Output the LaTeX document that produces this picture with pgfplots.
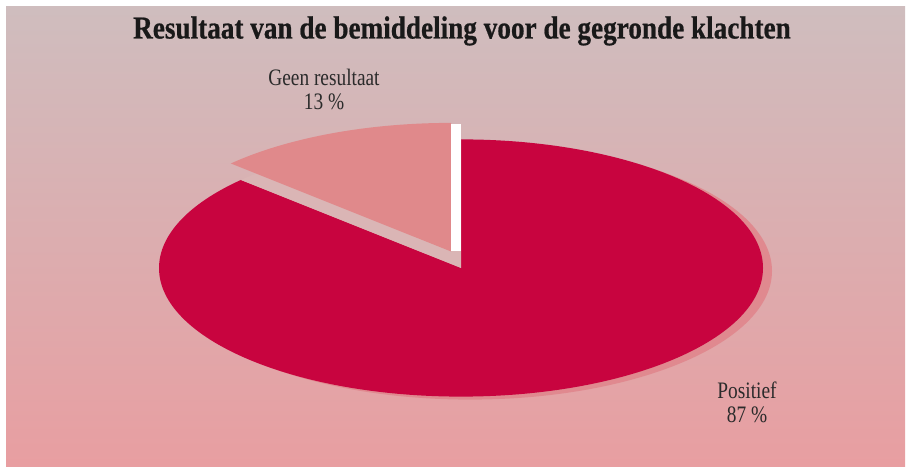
\documentclass[border=0pt]{standalone}
\usepackage{fontspec}
\setmainfont{Liberation Serif}
\newfontfamily\condfont[FakeStretch=0.82]{Liberation Serif}
\newfontfamily\titlefont[FakeStretch=0.85, FakeBold=0.6]{Liberation Serif Bold}
\usepackage{pgfplots}
\usepackage{pgfplotstable}
\pgfplotsset{compat=1.18}

\definecolor{bgtop}{HTML}{CFBDBE}
\definecolor{bgbot}{HTML}{E89EA1}
\definecolor{piemain}{HTML}{C8043F}
\definecolor{pieshadow}{HTML}{E0898F}
\definecolor{slicecol}{HTML}{E0898B}
\definecolor{slicegap}{HTML}{DAB5B5}
\definecolor{txt}{HTML}{2B2B2B}

% share of each result, in percent
\pgfplotstableread{
label value
Positief 87
Geen 13
}\piedata

\pgfplotstablegetelem{0}{value}\of\piedata
\let\vpos\pgfplotsretval
\pgfplotstablegetelem{1}{value}\of\piedata
\let\vgeen\pgfplotsretval
\pgfmathsetmacro\angpos{90-3.6*\vpos}
\pgfmathsetmacro\anggeen{90+3.6*\vgeen}

\begin{document}
\begin{tikzpicture}
\begin{axis}[
  scale only axis,
  width=455pt, height=233pt,
  xmin=0, xmax=910, ymin=0, ymax=466,
  hide axis,
  clip=false,
]
\path (axis cs:0,0) rectangle (axis cs:910,466);
\shade[top color=bgtop, bottom color=bgbot] (axis cs:6,0) rectangle (axis cs:905,459);

% shadow of the large sector
\fill[pieshadow] (axis cs:470,195) -- ++(0,64.3pt)
  arc[start angle=90, end angle=\angpos, x radius=151pt, y radius=64.3pt] -- cycle;
% large sector
\fill[piemain] (axis cs:461,198) -- ++(0,64.3pt)
  arc[start angle=90, end angle=\angpos, x radius=151pt, y radius=64.3pt] -- cycle;
% place the slice left behind
\fill[slicegap] (axis cs:461,198) -- ++(0,64.3pt)
  arc[start angle=90, end angle=\anggeen, x radius=151pt, y radius=64.3pt] -- cycle;
% exploded slice
\fill[slicecol] (axis cs:451,214.5) -- ++(0,64.3pt)
  arc[start angle=90, end angle=\anggeen, x radius=151pt, y radius=64.3pt] -- cycle;
\fill[white] (axis cs:451,214.5) rectangle (axis cs:461,342);

\node[font=\titlefont\fontsize{16}{18}\selectfont, text=black!90, anchor=base]
  at (axis cs:462,427.5) {Resultaat van de bemiddeling voor de gegronde klachten};
\node[font=\condfont\fontsize{11.8}{12}\selectfont, text=txt, align=center]
  at (axis cs:324,377) {Geen resultaat\\13 \%};
\node[font=\condfont\fontsize{11.8}{12}\selectfont, text=txt, align=center]
  at (axis cs:747,64) {Positief\\87 \%};
\end{axis}
\end{tikzpicture}
\end{document}
